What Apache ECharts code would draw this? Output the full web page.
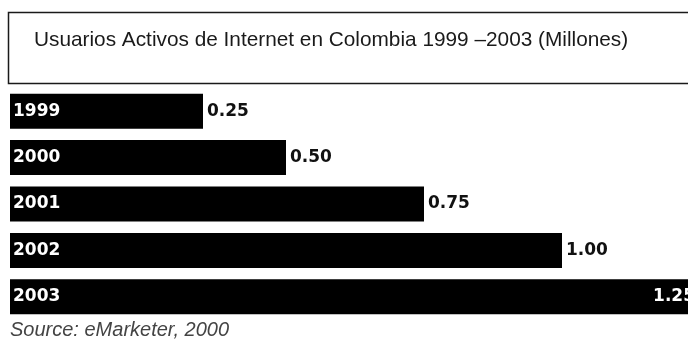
<!DOCTYPE html>
<html>
<head>
<meta charset="utf-8">
<style>
  html, body { margin: 0; padding: 0; background: #fff; }
  #chart { width: 688px; height: 351px; }
</style>
<script src="https://cdn.jsdelivr.net/npm/echarts@6/dist/echarts.min.js"></script>
</head>
<body>
<div id="chart"></div>
<script>
  // data
  var years = ['1999', '2000', '2001', '2002', '2003'];
  var users = [0.25, 0.50, 0.75, 1.00, 1.25];
  var titleText = 'Usuarios Activos de Internet en Colombia 1999 \u20132003 (Millones)';
  var sourceText = 'Source: eMarketer, 2000';

  var myChart = echarts.init(document.getElementById('chart'));

  var barData = [];
  for (var i = 0; i < users.length; i++) {
    var item = { value: users[i] };
    // last bar runs off the edge, so its label sits inside in white
    if (i === users.length - 1) {
      item.label = { position: 'insideRight', color: '#fff', distance: 5 };
    }
    barData.push(item);
  }

  var option = {
    backgroundColor: '#fff',
    animation: false,
    title: {
      text: titleText,
      left: 34,
      top: 30,
      padding: 0,
      textStyle: {
        fontFamily: 'Liberation Sans',
        fontSize: 20.8,
        fontWeight: 'normal',
        color: '#1a1a1a'
      }
    },
    graphic: [
      {
        type: 'rect',
        shape: { x: 8.5, y: 12.5, width: 700, height: 71 },
        style: { fill: 'none', stroke: '#1a1a1a', lineWidth: 1.5 },
        z: 1
      },
      {
        type: 'text',
        left: 10,
        top: 320,
        style: {
          text: sourceText,
          fontFamily: 'Liberation Sans',
          fontSize: 20,
          fontStyle: 'italic',
          fill: '#444'
        }
      }
    ],
    grid: {
      left: 10,
      right: -12,
      top: 88,
      height: 232,
      outerBoundsMode: 'none'
    },
    xAxis: {
      type: 'value',
      min: 0,
      max: 1.25,
      show: false
    },
    yAxis: {
      type: 'category',
      data: years,
      inverse: true,
      z: 10,
      axisLine: { show: false },
      axisTick: { show: false },
      splitLine: { show: false },
      axisLabel: {
        inside: true,
        margin: 3,
        color: '#fff',
        fontFamily: 'DejaVu Sans',
        fontWeight: 'bold',
        fontSize: 17
      }
    },
    series: [
      {
        type: 'bar',
        data: barData,
        barWidth: 35,
        barMinHeight: 193,
        itemStyle: { color: '#000' },
        label: {
          show: true,
          position: 'right',
          distance: 4,
          color: '#111',
          fontFamily: 'DejaVu Sans',
          fontWeight: 'bold',
          fontSize: 17,
          formatter: function (p) { return p.value.toFixed(2); }
        }
      }
    ]
  };
  myChart.setOption(option);
</script>
</body>
</html>
